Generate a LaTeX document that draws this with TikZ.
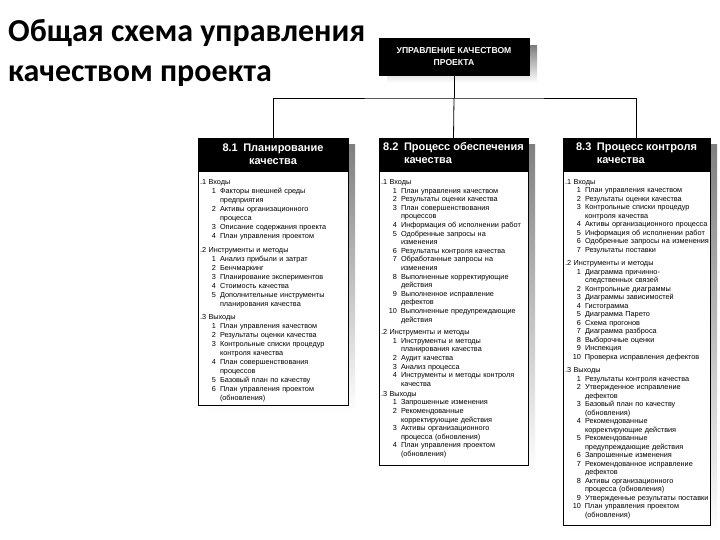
\documentclass[tikz,border=0pt]{standalone}
\usepackage{fontspec}
\setmainfont{Liberation Sans}
\newfontfamily\titlefont{Carlito}
\usetikzlibrary{positioning}
\definecolor{shade}{HTML}{ABABAB}
\definecolor{frame}{HTML}{000000}
% one group heading and one numbered entry of a column list
\newcommand\grp[2][0pt]{\par\vspace{#1}\noindent#2\par}
\newcommand\itm[2]{\par\hangindent=20pt\hangafter=1\noindent\makebox[16pt][r]{#1}\hspace{4pt}#2\par}

\begin{document}
\begin{tikzpicture}[x=1pt,y=-1pt,
  head/.style={fill=black,draw=frame,text=white,inner sep=0pt,align=center,
    font=\bfseries\fontsize{11}{13}\selectfont},
  listing/.style={anchor=north west,text width=160pt,inner xsep=2pt,inner ysep=4.5pt,align=left,
    font=\fontsize{7.3}{#1}\selectfont},
  link/.style={line width=.8pt}]
\useasboundingbox (0,0) rectangle (720,540);
% Title in the upper left corner.
\node[anchor=north west,align=left,inner sep=0pt,font=\titlefont\bfseries\fontsize{32}{40}\selectfont] (title) at (8,19) {Общая схема управления\\качеством проекта};
% Top box and its shadow.
\fill[shade] (387,46) rectangle (537,83);
\node[head,minimum width=150pt,minimum height=37pt,font=\bfseries\fontsize{8.6}{12.5}\selectfont] (top) at (454,56.5) {УПРАВЛЕНИЕ КАЧЕСТВОМ\\ПРОЕКТА};
% Column frames: shadow first, then the white body.
\foreach \l/\r/\b in {198/348/405,379/528/465,563/710/525}{
  \fill[shade] (\l+7,145) rectangle (\r+7,\b+7);
  \draw[fill=white,line width=.8pt] (\l,171) rectangle (\r,\b);
}
\node[head,minimum width=150pt,minimum height=33pt] (plan) at (273,154.5) {8.1\enspace Планирование\\качества};
\node[head,minimum width=149pt,minimum height=33pt] (assur) at (453.5,154.5) {\begin{tabular}{@{}l@{\enspace}l@{}}8.2&Процесс обеспечения\\&качества\end{tabular}};
\node[head,minimum width=147pt,minimum height=33pt] (ctrl) at (636.5,154.5) {\begin{tabular}{@{}l@{\enspace}l@{}}8.3&Процесс контроля\\&качества\end{tabular}};
% Connectors from the top box to the three columns.
\coordinate (bus) at (454,98);
\draw[link] (top.south) -- (bus);
\draw[link] (plan.north) |- (bus) -| (ctrl.north);
\draw[link] (bus) -- (assur.north);
% 8.1 list
\node[listing=9] (planlist) at (plan.south west) {%
\grp{.1 Входы}
\itm{1}{Факторы внешней среды\newline предприятия}
\itm{2}{Активы организационного\newline процесса}
\itm{3}{Описание содержания проекта}
\itm{4}{План управления проектом}
\grp[5pt]{.2 Инструменты и методы}
\itm{1}{Анализ прибыли и затрат}
\itm{2}{Бенчмаркинг}
\itm{3}{Планирование экспериментов}
\itm{4}{Стоимость качества}
\itm{5}{Дополнительные инструменты\newline планирования качества}
\grp[4pt]{.3 Выходы}
\itm{1}{План управления качеством}
\itm{2}{Результаты оценки качества}
\itm{3}{Контрольные списки процедур\newline контроля качества}
\itm{4}{План совершенствования\newline процессов}
\itm{5}{Базовый план по качеству}
\itm{6}{План управления проектом\newline (обновления)}};
% 8.2 list
\node[listing=8.6] (assurlist) at (assur.south west) {%
\grp{.1 Входы}
\itm{1}{План управления качеством}
\itm{2}{Результаты оценки качества}
\itm{3}{План совершенствования\newline процессов}
\itm{4}{Информация об исполнении работ}
\itm{5}{Одобренные запросы на\newline изменения}
\itm{6}{Результаты контроля качества}
\itm{7}{Обработанные запросы на\newline изменения}
\itm{8}{Выполненные корректирующие\newline действия}
\itm{9}{Выполненное исправление\newline дефектов}
\itm{10}{Выполненные предупреждающие\newline действия}
\grp[4pt]{.2 Инструменты и методы}
\itm{1}{Инструменты и методы\newline планирования качества}
\itm{2}{Аудит качества}
\itm{3}{Анализ процесса}
\itm{4}{Инструменты и методы контроля\newline качества}
\grp[1.5pt]{.3 Выходы}
\itm{1}{Запрошенные изменения}
\itm{2}{Рекомендованные\newline корректирующие действия}
\itm{3}{Активы организационного\newline процесса (обновления)}
\itm{4}{План управления проектом\newline (обновления)}};
% 8.3 list
\node[listing=8.5] (ctrllist) at (ctrl.south west) {%
\grp{.1 Входы}
\itm{1}{План управления качеством}
\itm{2}{Результаты оценки качества}
\itm{3}{Контрольные списки процедур\newline контроля качества}
\itm{4}{Активы организационного процесса}
\itm{5}{Информация об исполнении работ}
\itm{6}{Одобренные запросы на изменения}
\itm{7}{Результаты поставки}
\grp[5pt]{.2 Инструменты и методы}
\itm{1}{Диаграмма причинно-\newline следственных связей}
\itm{2}{Контрольные диаграммы}
\itm{3}{Диаграммы зависимостей}
\itm{4}{Гистограмма}
\itm{5}{Диаграмма Парето}
\itm{6}{Схема прогонов}
\itm{7}{Диаграмма разброса}
\itm{8}{Выборочные оценки}
\itm{9}{Инспекция}
\itm{10}{Проверка исправления дефектов}
\grp[5pt]{.3 Выходы}
\itm{1}{Результаты контроля качества}
\itm{2}{Утвержденное исправление\newline дефектов}
\itm{3}{Базовый план по качеству\newline (обновления)}
\itm{4}{Рекомендованные\newline корректирующие действия}
\itm{5}{Рекомендованные\newline предупреждающие действия}
\itm{6}{Запрошенные изменения}
\itm{7}{Рекомендованное исправление\newline дефектов}
\itm{8}{Активы организационного\newline процесса (обновления)}
\itm{9}{Утвержденные результаты поставки}
\itm{10}{План управления проектом\newline (обновления)}};
\end{tikzpicture}
\end{document}
